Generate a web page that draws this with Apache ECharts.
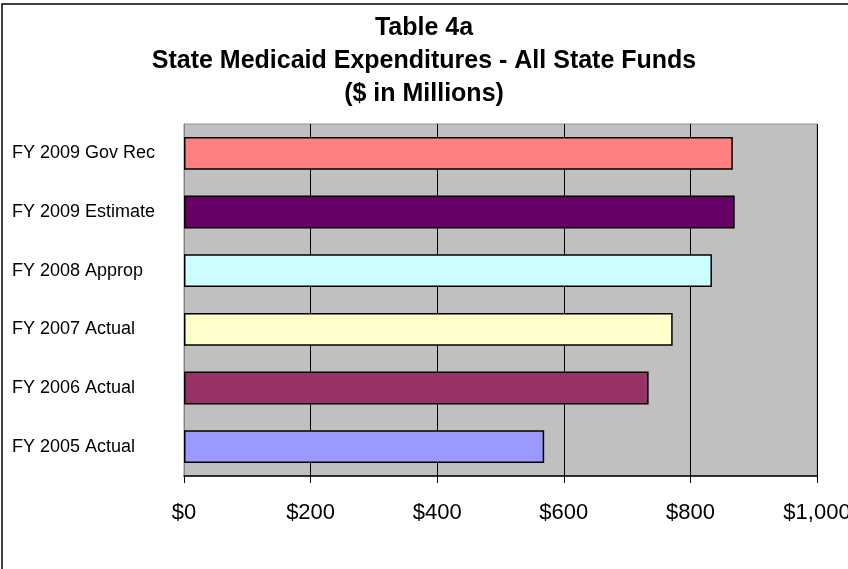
<!DOCTYPE html>
<html>
<head>
<meta charset="utf-8">
<script src="https://cdn.jsdelivr.net/npm/echarts@6/dist/echarts.min.js"></script>
<style>
  html, body { margin: 0; padding: 0; background: #fff; }
  #chart { width: 848px; height: 569px; }
</style>
</head>
<body>
<div id="chart"></div>
<script>
// bottom to top, as the category axis draws them
const categories = [
  'FY 2005 Actual',
  'FY 2006 Actual',
  'FY 2007 Actual',
  'FY 2008 Approp',
  'FY 2009 Estimate',
  'FY 2009 Gov Rec',
]
const values = [569, 734, 772, 834, 870, 867]
const barColors = ['#9999FF', '#993366', '#FFFFCC', '#CCFFFF', '#660066', '#FF8080']
const xTicks = [0, 200, 400, 600, 800, 1000]

const FONT = '"Liberation Sans", Arial, sans-serif'

const chart = echarts.init(document.getElementById('chart'), null, { renderer: 'canvas' })

chart.setOption({
  backgroundColor: '#fff',
  animation: false,
  title: {
    text: 'Table 4a\nState Medicaid Expenditures - All State Funds\n($ in Millions)',
    left: 'center',
    top: 7,
    textStyle: {
      fontFamily: FONT,
      fontSize: 25,
      fontWeight: 'bold',
      color: '#000',
      lineHeight: 33,
    },
  },
  graphic: [
    {
      type: 'rect',
      shape: { x: 2, y: 4, width: 900, height: 700 },
      style: { fill: 'none', stroke: '#000', lineWidth: 1.5 },
      silent: true,
    },
  ],
  grid: {
    left: 184,
    right: 31,
    top: 124,
    bottom: 93,
    outerBoundsMode: 'none',
    containLabel: false,
    show: true,
    backgroundColor: '#C0C0C0',
    borderColor: '#909090',
    borderWidth: 1,
  },
  xAxis: {
    type: 'value',
    min: xTicks[0],
    max: xTicks[xTicks.length - 1],
    interval: 200,
    axisLine: { show: true, lineStyle: { color: '#000', width: 1.5 } },
    axisTick: { show: true, length: 7, lineStyle: { color: '#000' } },
    splitLine: { show: true, lineStyle: { color: '#000', width: 1 } },
    axisLabel: {
      margin: 26,
      fontFamily: FONT,
      fontSize: 22,
      color: '#000',
      hideOverlap: false,
      formatter: (v) => '$' + v.toLocaleString('en-US'),
    },
  },
  yAxis: {
    type: 'category',
    data: categories,
    axisLine: { show: true, lineStyle: { color: '#808080' } },
    axisTick: { show: false },
    splitLine: { show: false },
    axisLabel: {
      align: 'left',
      margin: 172,
      fontFamily: FONT,
      fontSize: 18,
      color: '#000',
    },
  },
  series: [
    {
      type: 'bar',
      barCategoryGap: '44%',
      data: values.map((v, i) => ({
        value: v,
        itemStyle: { color: barColors[i] },
      })),
      itemStyle: { borderColor: '#000', borderWidth: 1.5 },
    },
  ],
})
</script>
</body>
</html>
